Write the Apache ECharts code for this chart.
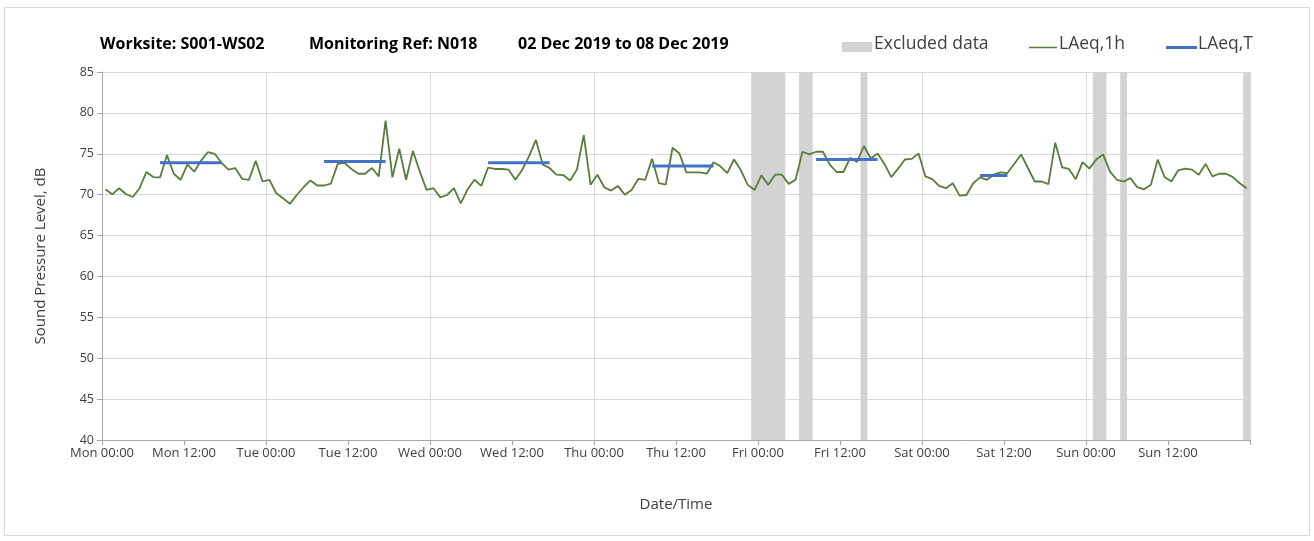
<!DOCTYPE html>
<html>
<head>
<meta charset="utf-8">
<script src="https://cdn.jsdelivr.net/npm/echarts@6/dist/echarts.min.js"></script>
<style>
html,body{margin:0;padding:0;background:#fff;}
#chart{width:1314px;height:541px;}
</style>
</head>
<body>
<div id="chart"></div>
<script>
// Hourly LAeq,1h values, Mon 00:00 .. Sun 23:00 (168 hours)
var laeq1h = [
70.66,70.04,70.79,70.08,69.71,70.79,72.77,72.15,72.11,74.83,72.56,71.82,73.68,72.81,74.17,75.21,75.0,73.88,73.06,73.26,71.94,71.82,74.13,71.61,
71.82,70.17,69.55,68.88,69.96,70.91,71.74,71.12,71.12,71.36,73.76,73.88,73.14,72.56,72.56,73.26,72.23,79.05,72.11,75.62,71.82,75.33,72.85,70.58,
70.79,69.67,69.96,70.79,68.93,70.66,71.82,71.07,73.31,73.14,73.14,73.06,71.82,73.06,74.71,76.69,73.68,73.26,72.44,72.40,71.74,73.06,77.27,71.2,
72.44,70.91,70.5,71.07,70.0,70.58,71.94,71.82,74.38,71.4,71.24,75.74,75.04,72.73,72.73,72.73,72.56,73.97,73.47,72.64,74.3,72.98,71.2,70.58,
72.36,71.2,72.44,72.44,71.32,71.82,75.25,74.92,75.25,75.25,73.68,72.77,72.77,74.5,74.0,75.95,74.42,75.04,73.76,72.15,73.18,74.3,74.38,75.04,
72.23,71.9,71.07,70.79,71.4,69.88,69.96,71.4,72.11,71.82,72.44,72.73,72.64,73.76,74.92,73.26,71.61,71.61,71.28,76.36,73.35,73.14,71.9,73.97,
73.18,74.3,74.92,72.85,71.82,71.61,72.02,70.91,70.66,71.2,74.3,72.15,71.61,72.98,73.18,73.06,72.44,73.76,72.23,72.56,72.56,72.15,71.4,70.79
];
// LAeq,T periods (hour from Mon 00:00, plotted at hour mid-points)
var ltStart = [8.5, 32.5, 56.5, 80.5, 104.5, 128.5];
var ltEnd   = [17.5, 41.5, 65.5, 89.5, 113.5, 132.5];
var ltValue = [73.9, 74.05, 73.9, 73.5, 74.3, 72.35];
// Excluded data periods (hours from Mon 00:00)
var exclStart = [95, 102, 111, 145, 149, 167];
var exclEnd   = [100, 104, 112, 147, 150, 168];
// Tick labels every 12 hours
var tickLabels = ['Mon 00:00','Mon 12:00','Tue 00:00','Tue 12:00','Wed 00:00','Wed 12:00','Thu 00:00','Thu 12:00','Fri 00:00','Fri 12:00','Sat 00:00','Sat 12:00','Sun 00:00','Sun 12:00'];

var FONT = '"Open Sans", sans-serif';
var lineData = laeq1h.map(function(v, i){ return [i + 0.5, v]; });
var ltData = [];
for (var k = 0; k < ltStart.length; k++) {
  ltData.push([ltStart[k], ltValue[k]], [ltEnd[k], ltValue[k]], ['-', '-']);
}
var bands = exclStart.map(function(s, i){ return [{xAxis: s}, {xAxis: exclEnd[i]}]; });

var chart = echarts.init(document.getElementById('chart'), null, {renderer: 'canvas'});
chart.setOption({
  animation: false,
  backgroundColor: '#ffffff',
  textStyle: {fontFamily: FONT},
  grid: {left: 102, right: 64, top: 72, bottom: 101, containLabel: false},
  xAxis: [{
    type: 'value', min: 0, max: 168, interval: 12,
    name: 'Date/Time', nameLocation: 'middle', nameGap: 57,
    nameTextStyle: {fontFamily: FONT, fontSize: 15, color: '#404040'},
    axisLine: {show: true, lineStyle: {color: '#a6a6a6', width: 1}},
    axisTick: {show: true, length: 5, lineStyle: {color: '#a6a6a6'}},
    axisLabel: {fontFamily: FONT, fontSize: 13, color: '#404040', margin: 7,
      formatter: function(v){ var i = Math.round(v / 12); return i < tickLabels.length ? tickLabels[i] : ''; }},
    splitLine: {show: false}
  }, {
    type: 'value', min: 0, max: 168, interval: 24, position: 'bottom',
    axisLine: {show: false}, axisTick: {show: false}, axisLabel: {show: false},
    splitLine: {show: true, lineStyle: {color: '#d9d9d9', width: 1}}
  }],
  yAxis: {
    type: 'value', min: 40, max: 85, interval: 5,
    name: 'Sound Pressure Level, dB', nameLocation: 'middle', nameGap: 54,
    nameTextStyle: {fontFamily: FONT, fontSize: 15, color: '#404040'},
    axisLine: {show: true, lineStyle: {color: '#a6a6a6', width: 1}},
    axisTick: {show: true, length: 5, lineStyle: {color: '#a6a6a6'}},
    axisLabel: {fontFamily: FONT, fontSize: 12.5, color: '#404040', margin: 8},
    splitLine: {show: true, lineStyle: {color: '#d9d9d9', width: 1}}
  },
  series: [{
    name: 'Excluded data', type: 'line', data: [], silent: true,
    markArea: {silent: true, itemStyle: {color: '#d3d3d3', opacity: 1}, data: bands}
  }, {
    name: 'LAeq,1h', type: 'line', data: lineData, showSymbol: false, symbol: 'none',
    lineStyle: {color: '#587d3b', width: 1.8}, z: 3
  }, {
    name: 'LAeq,T', type: 'line', data: ltData, showSymbol: false, symbol: 'none',
    connectNulls: false, lineStyle: {color: '#4472c4', width: 3}, z: 4
  }],
  graphic: [
    {type: 'rect', shape: {x: 4.5, y: 7.5, width: 1305, height: 528}, style: {fill: 'none', stroke: '#d9d9d9', lineWidth: 1}, silent: true},
    {type: 'text', left: 100, top: 36, style: {text: 'Worksite: S001-WS02', font: 'bold 16px ' + FONT, fill: '#000'}},
    {type: 'text', left: 309, top: 36, style: {text: 'Monitoring Ref: N018', font: 'bold 16px ' + FONT, fill: '#000'}},
    {type: 'text', left: 518, top: 36, style: {text: '02 Dec 2019 to 08 Dec 2019', font: 'bold 16px ' + FONT, fill: '#000'}},
    {type: 'rect', shape: {x: 842, y: 42, width: 30, height: 10}, style: {fill: '#d3d3d3'}},
    {type: 'text', left: 874, top: 35, style: {text: 'Excluded data', font: '17.5px ' + FONT, fill: '#404040'}},
    {type: 'line', shape: {x1: 1029, y1: 47.5, x2: 1057, y2: 47.5}, style: {stroke: '#587d3b', lineWidth: 1.5}},
    {type: 'text', left: 1059, top: 35, style: {text: 'LAeq,1h', font: '17.5px ' + FONT, fill: '#404040'}},
    {type: 'line', shape: {x1: 1166, y1: 47.5, x2: 1197, y2: 47.5}, style: {stroke: '#4472c4', lineWidth: 3}},
    {type: 'text', left: 1198, top: 35, style: {text: 'LAeq,T', font: '17.5px ' + FONT, fill: '#404040'}}
  ]
});
</script>
</body>
</html>
